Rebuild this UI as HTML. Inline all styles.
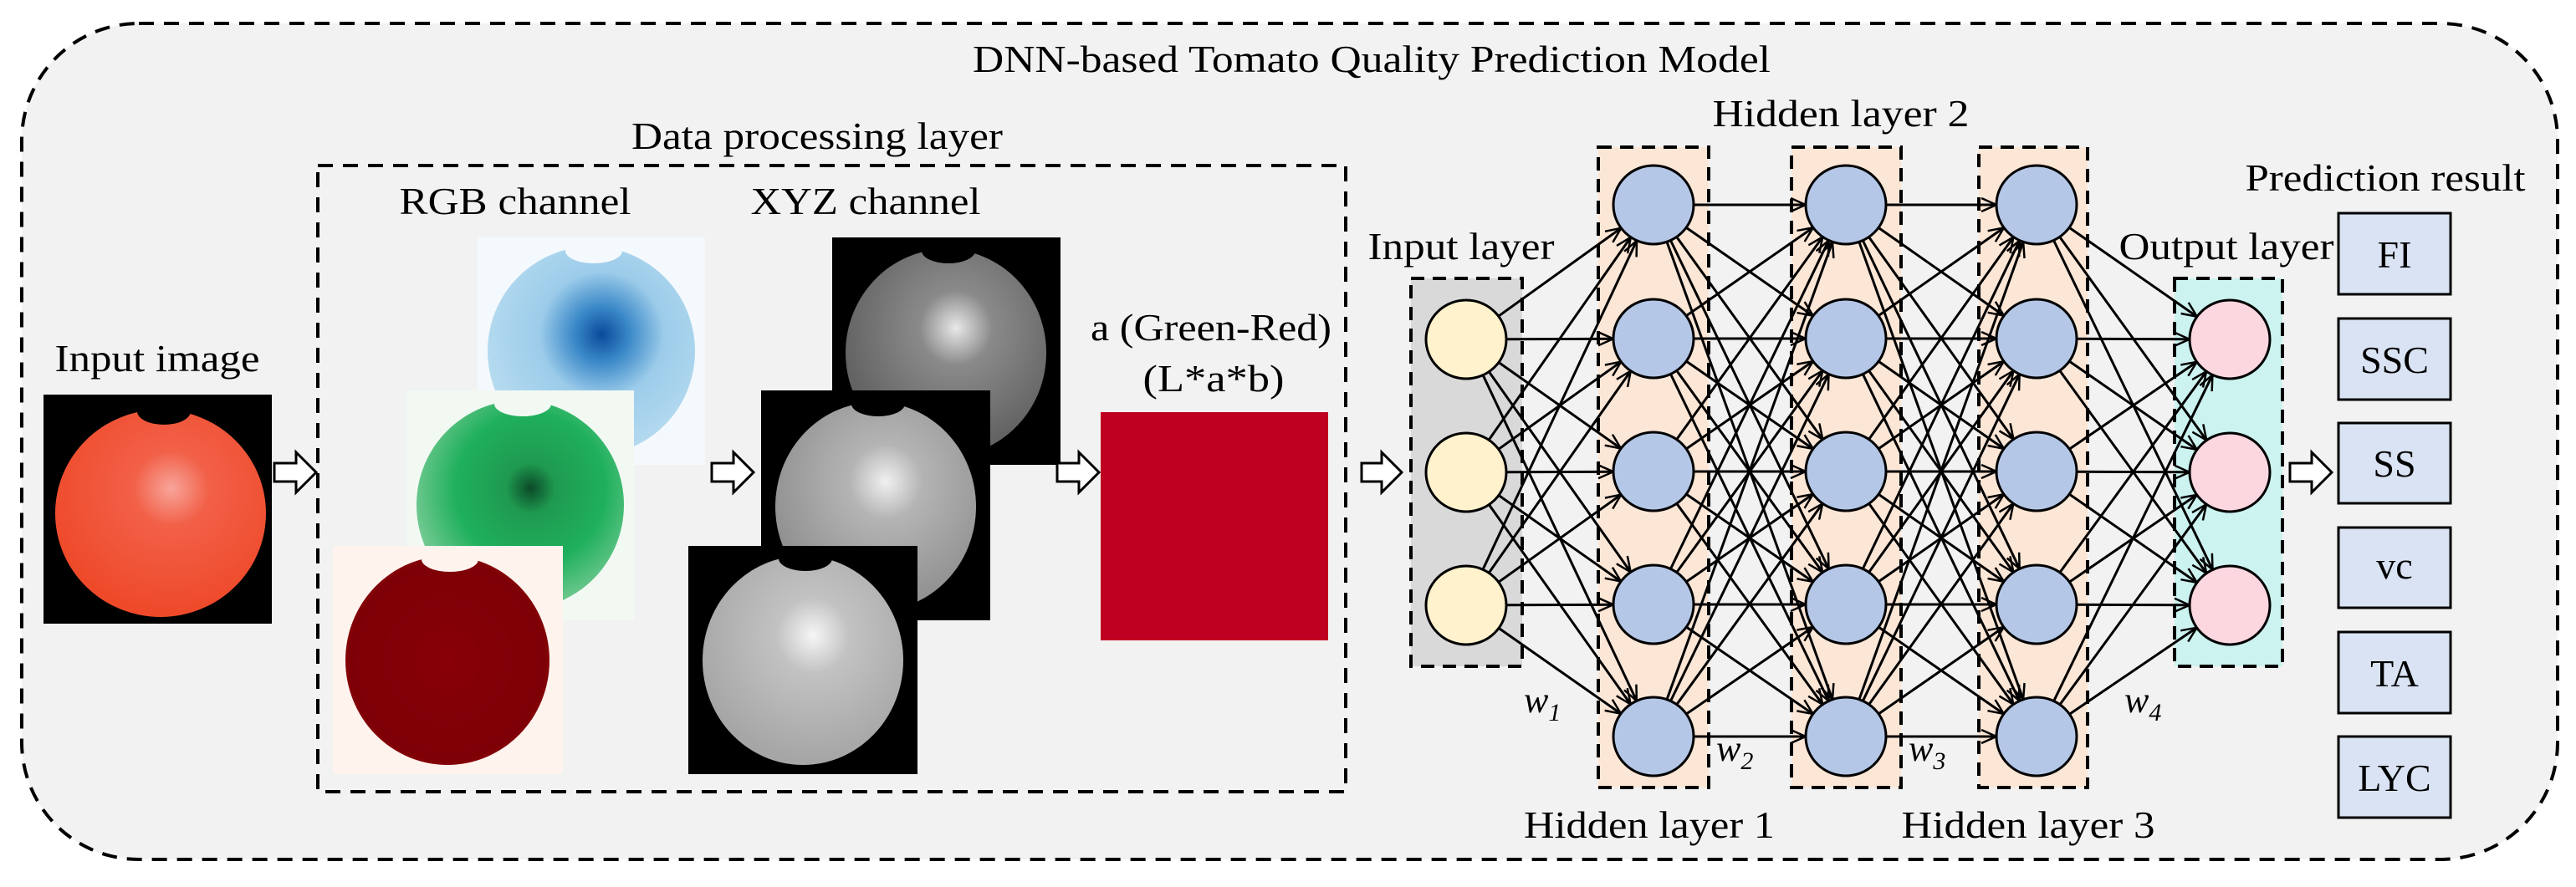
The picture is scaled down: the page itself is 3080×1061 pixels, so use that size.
<!DOCTYPE html>
<html><head><meta charset="utf-8"><style>
html,body{margin:0;padding:0;background:#fff;}
svg{display:block}
text{font-family:"Liberation Serif","Times New Roman",serif;fill:#000;}
</style></head><body>
<svg id="s" width="3080" height="1061" viewBox="0 0 3080 1061" xmlns="http://www.w3.org/2000/svg">
<defs>
<marker id="ah" markerUnits="userSpaceOnUse" markerWidth="22" markerHeight="18" refX="20" refY="9" orient="auto">
<path d="M2,1 L20,9 L2,17" fill="none" stroke="#000" stroke-width="2.5"/>
</marker>
<radialGradient id="gOr" cx="0.55" cy="0.38" r="0.6"><stop offset="0" stop-color="#f7a59a"/><stop offset="0.3" stop-color="#f26048"/><stop offset="1" stop-color="#ee4a2a"/></radialGradient>
<radialGradient id="gBl" cx="0.55" cy="0.42" r="0.6"><stop offset="0" stop-color="#0a4a9a"/><stop offset="0.22" stop-color="#3a88c8"/><stop offset="0.5" stop-color="#9cccea"/><stop offset="1" stop-color="#b8dcf0"/></radialGradient>
<radialGradient id="gGr" cx="0.55" cy="0.42" r="0.6"><stop offset="0" stop-color="#0b4a28"/><stop offset="0.2" stop-color="#1f9a50"/><stop offset="0.6" stop-color="#1fb05c"/><stop offset="1" stop-color="#7ccc98"/></radialGradient>
<radialGradient id="gRd" cx="0.5" cy="0.5" r="0.6"><stop offset="0" stop-color="#880008"/><stop offset="0.8" stop-color="#7e0006"/><stop offset="1" stop-color="#a01010"/></radialGradient>
<radialGradient id="gG1" cx="0.55" cy="0.38" r="0.6"><stop offset="0" stop-color="#e8e8e8"/><stop offset="0.3" stop-color="#8a8a8a"/><stop offset="1" stop-color="#606060"/></radialGradient>
<radialGradient id="gG2" cx="0.55" cy="0.38" r="0.6"><stop offset="0" stop-color="#f0f0f0"/><stop offset="0.3" stop-color="#b4b4b4"/><stop offset="1" stop-color="#909090"/></radialGradient>
<radialGradient id="gG3" cx="0.55" cy="0.38" r="0.6"><stop offset="0" stop-color="#f6f6f6"/><stop offset="0.3" stop-color="#c2c2c2"/><stop offset="1" stop-color="#a6a6a6"/></radialGradient>
</defs>
<rect x="26" y="28" width="3032" height="1000" rx="140" ry="140" fill="#f2f2f2" stroke="#000" stroke-width="4" stroke-dasharray="18,12"/>
<text x="1640" y="86" font-size="46" text-anchor="middle" textLength="954" lengthAdjust="spacingAndGlyphs">DNN-based Tomato Quality Prediction Model</text>
<text x="977" y="178" font-size="46" text-anchor="middle" textLength="444" lengthAdjust="spacingAndGlyphs">Data processing layer</text>
<rect x="380" y="198" width="1229" height="749" fill="none" stroke="#000" stroke-width="4" stroke-dasharray="18,12"/>
<text x="616" y="256" font-size="46" text-anchor="middle" textLength="277" lengthAdjust="spacingAndGlyphs">RGB channel</text>
<text x="1035" y="256" font-size="46" text-anchor="middle" textLength="275" lengthAdjust="spacingAndGlyphs">XYZ channel</text>
<text x="188" y="444" font-size="46" text-anchor="middle" textLength="245" lengthAdjust="spacingAndGlyphs">Input image</text>
<text x="1448" y="407" font-size="46" text-anchor="middle" textLength="288" lengthAdjust="spacingAndGlyphs">a (Green-Red)</text>
<text x="1451" y="468" font-size="46" text-anchor="middle" textLength="169" lengthAdjust="spacingAndGlyphs">(L*a*b)</text>

<rect x="52" y="472" width="273" height="274" fill="#000"/>
<ellipse cx="192" cy="614" rx="126" ry="124" fill="url(#gOr)"/>
<ellipse cx="196" cy="492" rx="32" ry="16" fill="#000"/>

<rect x="571" y="284" width="272" height="272" fill="#f4f9fd"/>
<ellipse cx="707" cy="420" rx="124" ry="125" fill="url(#gBl)"/>
<ellipse cx="710" cy="300" rx="34" ry="15" fill="#f4f9fd"/>
<rect x="486" y="467" width="272" height="275" fill="#f2f9f3"/>
<ellipse cx="622" cy="604" rx="124" ry="125" fill="url(#gGr)"/>
<ellipse cx="625" cy="483" rx="34" ry="15" fill="#f2f9f3"/>
<rect x="398" y="653" width="275" height="273" fill="#fff3ee"/>
<ellipse cx="535" cy="790" rx="122" ry="125" fill="url(#gRd)"/>
<ellipse cx="538" cy="669" rx="34" ry="15" fill="#fff3ee"/>

<rect x="995" y="284" width="273" height="272" fill="#000"/>
<ellipse cx="1131" cy="422" rx="120" ry="124" fill="url(#gG1)"/>
<ellipse cx="1134" cy="300" rx="32" ry="15" fill="#000"/>
<rect x="910" y="467" width="274" height="275" fill="#000"/>
<ellipse cx="1047" cy="606" rx="120" ry="125" fill="url(#gG2)"/>
<ellipse cx="1050" cy="483" rx="32" ry="15" fill="#000"/>
<rect x="823" y="653" width="274" height="273" fill="#000"/>
<ellipse cx="960" cy="790" rx="120" ry="125" fill="url(#gG3)"/>
<ellipse cx="963" cy="668" rx="32" ry="15" fill="#000"/>

<rect x="1316" y="493" width="272" height="273" fill="#c00020"/>

<g fill="#fff" stroke="#000" stroke-width="3">
<path d="M328,554 h26 v-13 l24,24 l-24,24 v-13 h-26 z"/>
<path d="M851,554 h26 v-13 l24,24 l-24,24 v-13 h-26 z"/>
<path d="M1264,554 h26 v-13 l24,24 l-24,24 v-13 h-26 z"/>
<path d="M1628,554 h24 v-13 l24,24 l-24,24 v-13 h-24 z"/>
<path d="M2738,554 h26 v-13 l24,24 l-24,24 v-13 h-26 z"/>
</g>

<rect x="1687" y="333" width="133" height="464" fill="#d9d9d9" stroke="#000" stroke-width="4" stroke-dasharray="16,10"/>
<rect x="1911" y="176" width="132" height="766" fill="#fce6d6" stroke="#000" stroke-width="4" stroke-dasharray="16,10"/>
<rect x="2142" y="176" width="131" height="766" fill="#fce6d6" stroke="#000" stroke-width="4" stroke-dasharray="16,10"/>
<rect x="2366" y="176" width="130" height="766" fill="#fce6d6" stroke="#000" stroke-width="4" stroke-dasharray="16,10"/>
<rect x="2600" y="333" width="129" height="464" fill="#ccf3f0" stroke="#000" stroke-width="4" stroke-dasharray="16,10"/>

<text x="1747" y="310" font-size="46" text-anchor="middle" textLength="223" lengthAdjust="spacingAndGlyphs">Input layer</text>
<text x="2201" y="151" font-size="46" text-anchor="middle" textLength="307" lengthAdjust="spacingAndGlyphs">Hidden layer 2</text>
<text x="2662" y="310" font-size="46" text-anchor="middle" textLength="257" lengthAdjust="spacingAndGlyphs">Output layer</text>
<text x="2852" y="228" font-size="46" text-anchor="middle" textLength="335" lengthAdjust="spacingAndGlyphs">Prediction result</text>
<text x="1972" y="1002" font-size="46" text-anchor="middle" textLength="300" lengthAdjust="spacingAndGlyphs">Hidden layer 1</text>
<text x="2425" y="1002" font-size="46" text-anchor="middle" textLength="303" lengthAdjust="spacingAndGlyphs">Hidden layer 3</text>
<g font-style="italic" font-size="44">
<text x="1822" y="852">w<tspan font-size="30" dy="10">1</tspan></text>
<text x="2052" y="910">w<tspan font-size="30" dy="10">2</tspan></text>
<text x="2282" y="910">w<tspan font-size="30" dy="10">3</tspan></text>
<text x="2540" y="852">w<tspan font-size="30" dy="10">4</tspan></text>
</g>

<g id="lines" stroke="#000" stroke-width="3" fill="none"></g>
<g id="nodes" stroke="#000" stroke-width="3"></g>

<g fill="#dae3f3" stroke="#000" stroke-width="3">
<rect x="2796" y="255" width="134" height="97"/>
<rect x="2796" y="381" width="134" height="97"/>
<rect x="2796" y="506" width="134" height="96"/>
<rect x="2796" y="631" width="134" height="96"/>
<rect x="2796" y="756" width="134" height="97"/>
<rect x="2796" y="881" width="134" height="97"/>
</g>
<g font-size="46" text-anchor="middle">
<text x="2863" y="320">FI</text>
<text x="2863" y="446">SSC</text>
<text x="2863" y="570">SS</text>
<text x="2863" y="692">vc</text>
<text x="2863" y="821">TA</text>
<text x="2863" y="946">LYC</text>
</g>
</svg>
<script>
var NS="http://www.w3.org/2000/svg";
var layers=[
 {x:1753,ys:[406,565,724],f:"#fff2cc"},
 {x:1977,ys:[245,405,564,723,881],f:"#b4c7e7"},
 {x:2207,ys:[245,405,564,723,881],f:"#b4c7e7"},
 {x:2435,ys:[245,405,564,723,881],f:"#b4c7e7"},
 {x:2666,ys:[406,565,724],f:"#fcd7e0"}];
var rx=48,ry=47;
var L=document.getElementById("lines"),N=document.getElementById("nodes");
function edge(cx,cy,dx,dy){var t=1/Math.sqrt((dx*dx)/(rx*rx)+(dy*dy)/(ry*ry));return [cx+dx*t,cy+dy*t];}
for(var i=0;i<layers.length-1;i++){var a=layers[i],b=layers[i+1];
 a.ys.forEach(function(y1){b.ys.forEach(function(y2){
  var dx=b.x-a.x,dy=y2-y1;var p=edge(a.x,y1,dx,dy),q=edge(b.x,y2,-dx,-dy);
  var l=document.createElementNS(NS,"line");l.setAttribute("x1",p[0]);l.setAttribute("y1",p[1]);l.setAttribute("x2",q[0]);l.setAttribute("y2",q[1]);l.setAttribute("marker-end","url(#ah)");L.appendChild(l);});});}
layers.forEach(function(a){a.ys.forEach(function(y){var e=document.createElementNS(NS,"ellipse");e.setAttribute("cx",a.x);e.setAttribute("cy",y);e.setAttribute("rx",rx);e.setAttribute("ry",ry);e.setAttribute("fill",a.f);N.appendChild(e);});});
</script>
</body></html>
